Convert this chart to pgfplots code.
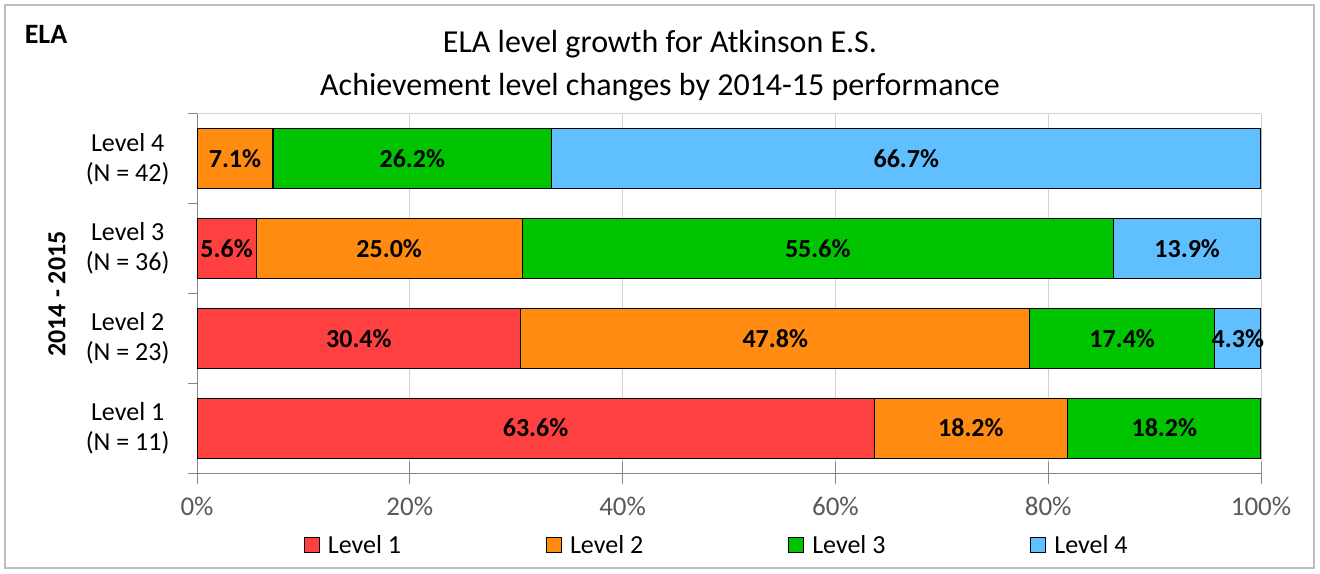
\documentclass[border=0pt]{standalone}
\usepackage{pgfplots}
\pgfplotsset{compat=1.18}
\usepackage{pgfplotstable}
\usepackage{fontspec}
\setmainfont{Carlito}
\definecolor{cL1}{RGB}{255,64,64}
\definecolor{cL2}{RGB}{255,140,16}
\definecolor{cL3}{RGB}{0,196,0}
\definecolor{cL4}{RGB}{96,192,255}
\definecolor{axgray}{RGB}{134,134,134}
\definecolor{gridgray}{RGB}{210,210,210}
\definecolor{ticktext}{RGB}{89,89,89}
\pgfplotstableread{
pos L1 L2 L3 L4
0 63.64 18.18 18.18 0
1 30.43 47.83 17.39 4.348
2 5.56 25.00 55.56 13.88
3 0 7.14 26.19 66.67
}\data
\begin{document}
\begin{tikzpicture}[x=1pt,y=1pt]
\fill[white] (0,0) rectangle (1320,573);
\draw[line width=1.2pt, draw={rgb,255:red,190;green,190;blue,190}] (5,5) rectangle (1314,568);
\node[font=\fontsize{28}{32}\selectfont\bfseries, anchor=center] at (46,539) {ELA};
\node[font=\fontsize{32}{43}\selectfont, align=center, anchor=center] at (660,507) {ELA level growth for Atkinson E.S.\\Achievement level changes by 2014-15 performance};
\node[font=\fontsize{26}{30}\selectfont\bfseries, rotate=90, anchor=center] at (57,279) {2014 - 2015};
\begin{axis}[
  at={(197pt,100pt)}, anchor=south west,
  scale only axis, width=1064pt, height=359pt,
  xbar stacked, bar width=60pt,
  xmin=0, xmax=100, ymin=-0.5, ymax=3.5,
  axis line style={draw=none},
  xtick={0,20,...,100},
  xticklabels={0\%,20\%,40\%,60\%,80\%,100\%},
  xmajorgrids, grid style={draw=gridgray, line width=1pt},
  xtick align=center, major tick length=22pt,
  ytick={0,1,2,3},
  yticklabels={{Level 1\\(N = 11)},{Level 2\\(N = 23)},{Level 3\\(N = 36)},{Level 4\\(N = 42)}},
  minor ytick={-0.5,0.5,1.5,2.5,3.5},
  major y tick style={draw=none},
  minor y tick style={draw=axgray, line width=1pt},
  ytick align=outside, minor tick length=9pt,
  major x tick style={draw=axgray, line width=1pt},
  xticklabel style={text=ticktext, yshift=-10pt, font=\fontsize{27}{31}\selectfont},
  yticklabel style={align=center, font=\fontsize{26}{30}\selectfont, xshift=-2pt},
  tickpos=left,
  nodes near coords={\ifdim\rawv pt>0.01pt\relax\pgfmathprintnumber[fixed,fixed zerofill,precision=1,assume math mode=true]{\rawv}\%\fi},
  every node near coord/.append style={anchor=center, font=\fontsize{26}{30}\selectfont\bfseries, text=black},
  every axis plot/.append style={draw=black, line width=1.2pt},
  legend columns=4,
  legend style={draw=none, at={(0.4885,-0.2006)}, anchor=center, font=\fontsize{26}{30}\selectfont,
    /tikz/every odd column/.append style={column sep=6pt},
    /tikz/every even column/.append style={column sep=143pt}},
  legend image code/.code={\draw[#1, draw=black, line width=1pt] (0pt,-7.5pt) rectangle (15pt,7.5pt);},
]
\addplot[fill=cL1, visualization depends on={\thisrow{L1}\as\rawv}] table[x=L1, y=pos] {\data};
\addplot[fill=cL2, visualization depends on={\thisrow{L2}\as\rawv}] table[x=L2, y=pos] {\data};
\addplot[fill=cL3, visualization depends on={\thisrow{L3}\as\rawv}] table[x=L3, y=pos] {\data};
\addplot[fill=cL4, visualization depends on={\thisrow{L4}\as\rawv}] table[x=L4, y=pos] {\data};
\legend{Level 1, Level 2, Level 3, Level 4}
\draw[draw=gridgray, line width=1pt] (rel axis cs:0,1) -- (rel axis cs:1,1) -- (rel axis cs:1,0);
\draw[draw=axgray, line width=1pt] (rel axis cs:0,0) -- (rel axis cs:1,0);
\draw[draw=axgray, line width=1pt] (rel axis cs:0,0) -- (rel axis cs:0,1);
\end{axis}
\end{tikzpicture}
\end{document}
